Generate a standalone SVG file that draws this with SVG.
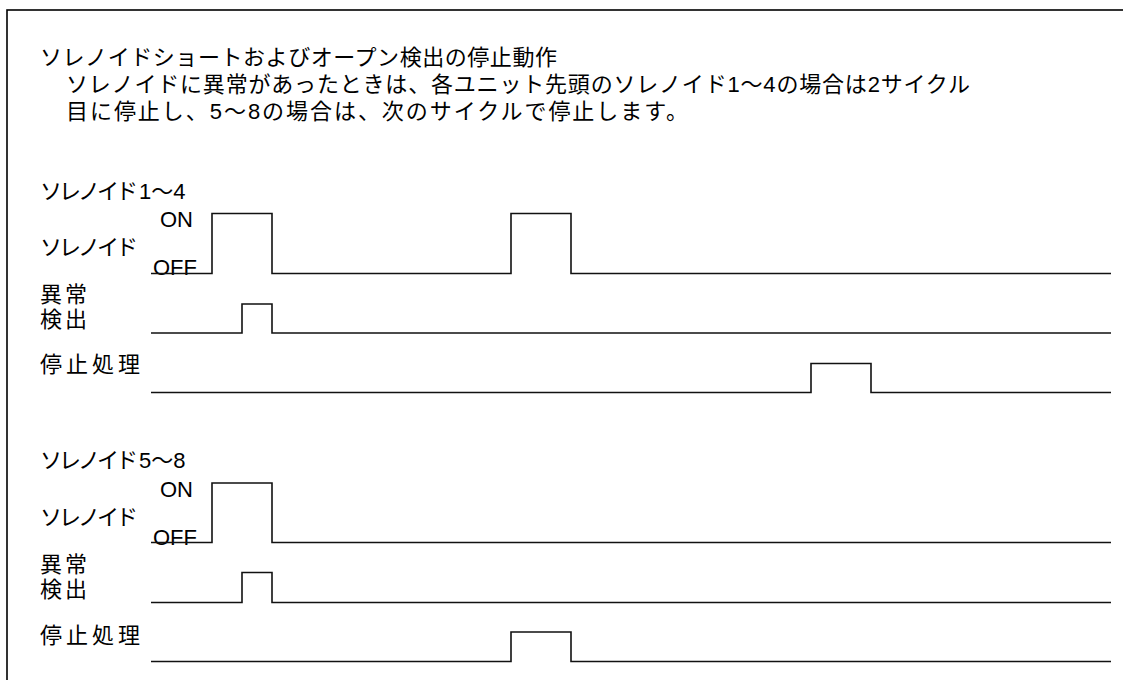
<svg xmlns="http://www.w3.org/2000/svg" width="1123" height="680" viewBox="0 0 1123 680">
<style>
text{font-family:"Liberation Sans","Noto Sans CJK JP",sans-serif;font-size:22px;fill:#000}
.w{fill:none;stroke:#111;stroke-width:1.6;stroke-linejoin:miter}
</style>
<rect x="0" y="0" width="1123" height="680" fill="#fff"/>
<rect x="7" y="10" width="1140" height="700" fill="none" stroke="#000" stroke-width="1.6"/>
<g id="header">
<text x="40" y="65" textLength="517" lengthAdjust="spacing">ソレノイドショートおよびオープン検出の停止動作</text>
<text x="66" y="92" textLength="904" lengthAdjust="spacing">ソレノイドに異常があったときは、各ユニット先頭のソレノイド1～4の場合は2サイクル</text>
<text x="66" y="119" textLength="622" lengthAdjust="spacing">目に停止し、5～8の場合は、次のサイクルで停止します。</text>
</g>
<g id="section1">
<text x="40" y="199"><tspan textLength="98" lengthAdjust="spacing">ソレノイド</tspan><tspan x="139">1～4</tspan></text>
<text x="160" y="227">ON</text>
<text x="40" y="255" textLength="98" lengthAdjust="spacing">ソレノイド</text>
<text x="153" y="275">OFF</text>
<text x="40" y="302" textLength="47" lengthAdjust="spacing">異常</text>
<text x="40" y="327" textLength="47" lengthAdjust="spacing">検出</text>
<text x="40" y="372" textLength="100" lengthAdjust="spacing">停止処理</text>
<path class="w" d="M151 273.5H212V213.5H272V273.5H511V213.5H571V273.5H1111"/>
<path class="w" d="M151 333H242V304H272V333H1111"/>
<path class="w" d="M151 392.5H811V363.5H871V392.5H1111"/>
</g>
<g id="section2">
<text x="40" y="468"><tspan textLength="98" lengthAdjust="spacing">ソレノイド</tspan><tspan x="139">5～8</tspan></text>
<text x="160" y="497">ON</text>
<text x="40" y="525" textLength="98" lengthAdjust="spacing">ソレノイド</text>
<text x="153" y="545">OFF</text>
<text x="40" y="572" textLength="47" lengthAdjust="spacing">異常</text>
<text x="40" y="597" textLength="47" lengthAdjust="spacing">検出</text>
<text x="40" y="643" textLength="100" lengthAdjust="spacing">停止処理</text>
<path class="w" d="M151 542.5H212V483H272V542.5H1111"/>
<path class="w" d="M151 602.5H242V572.5H272V602.5H1111"/>
<path class="w" d="M151 661.5H511V632H571V661.5H1111"/>
</g>
</svg>
